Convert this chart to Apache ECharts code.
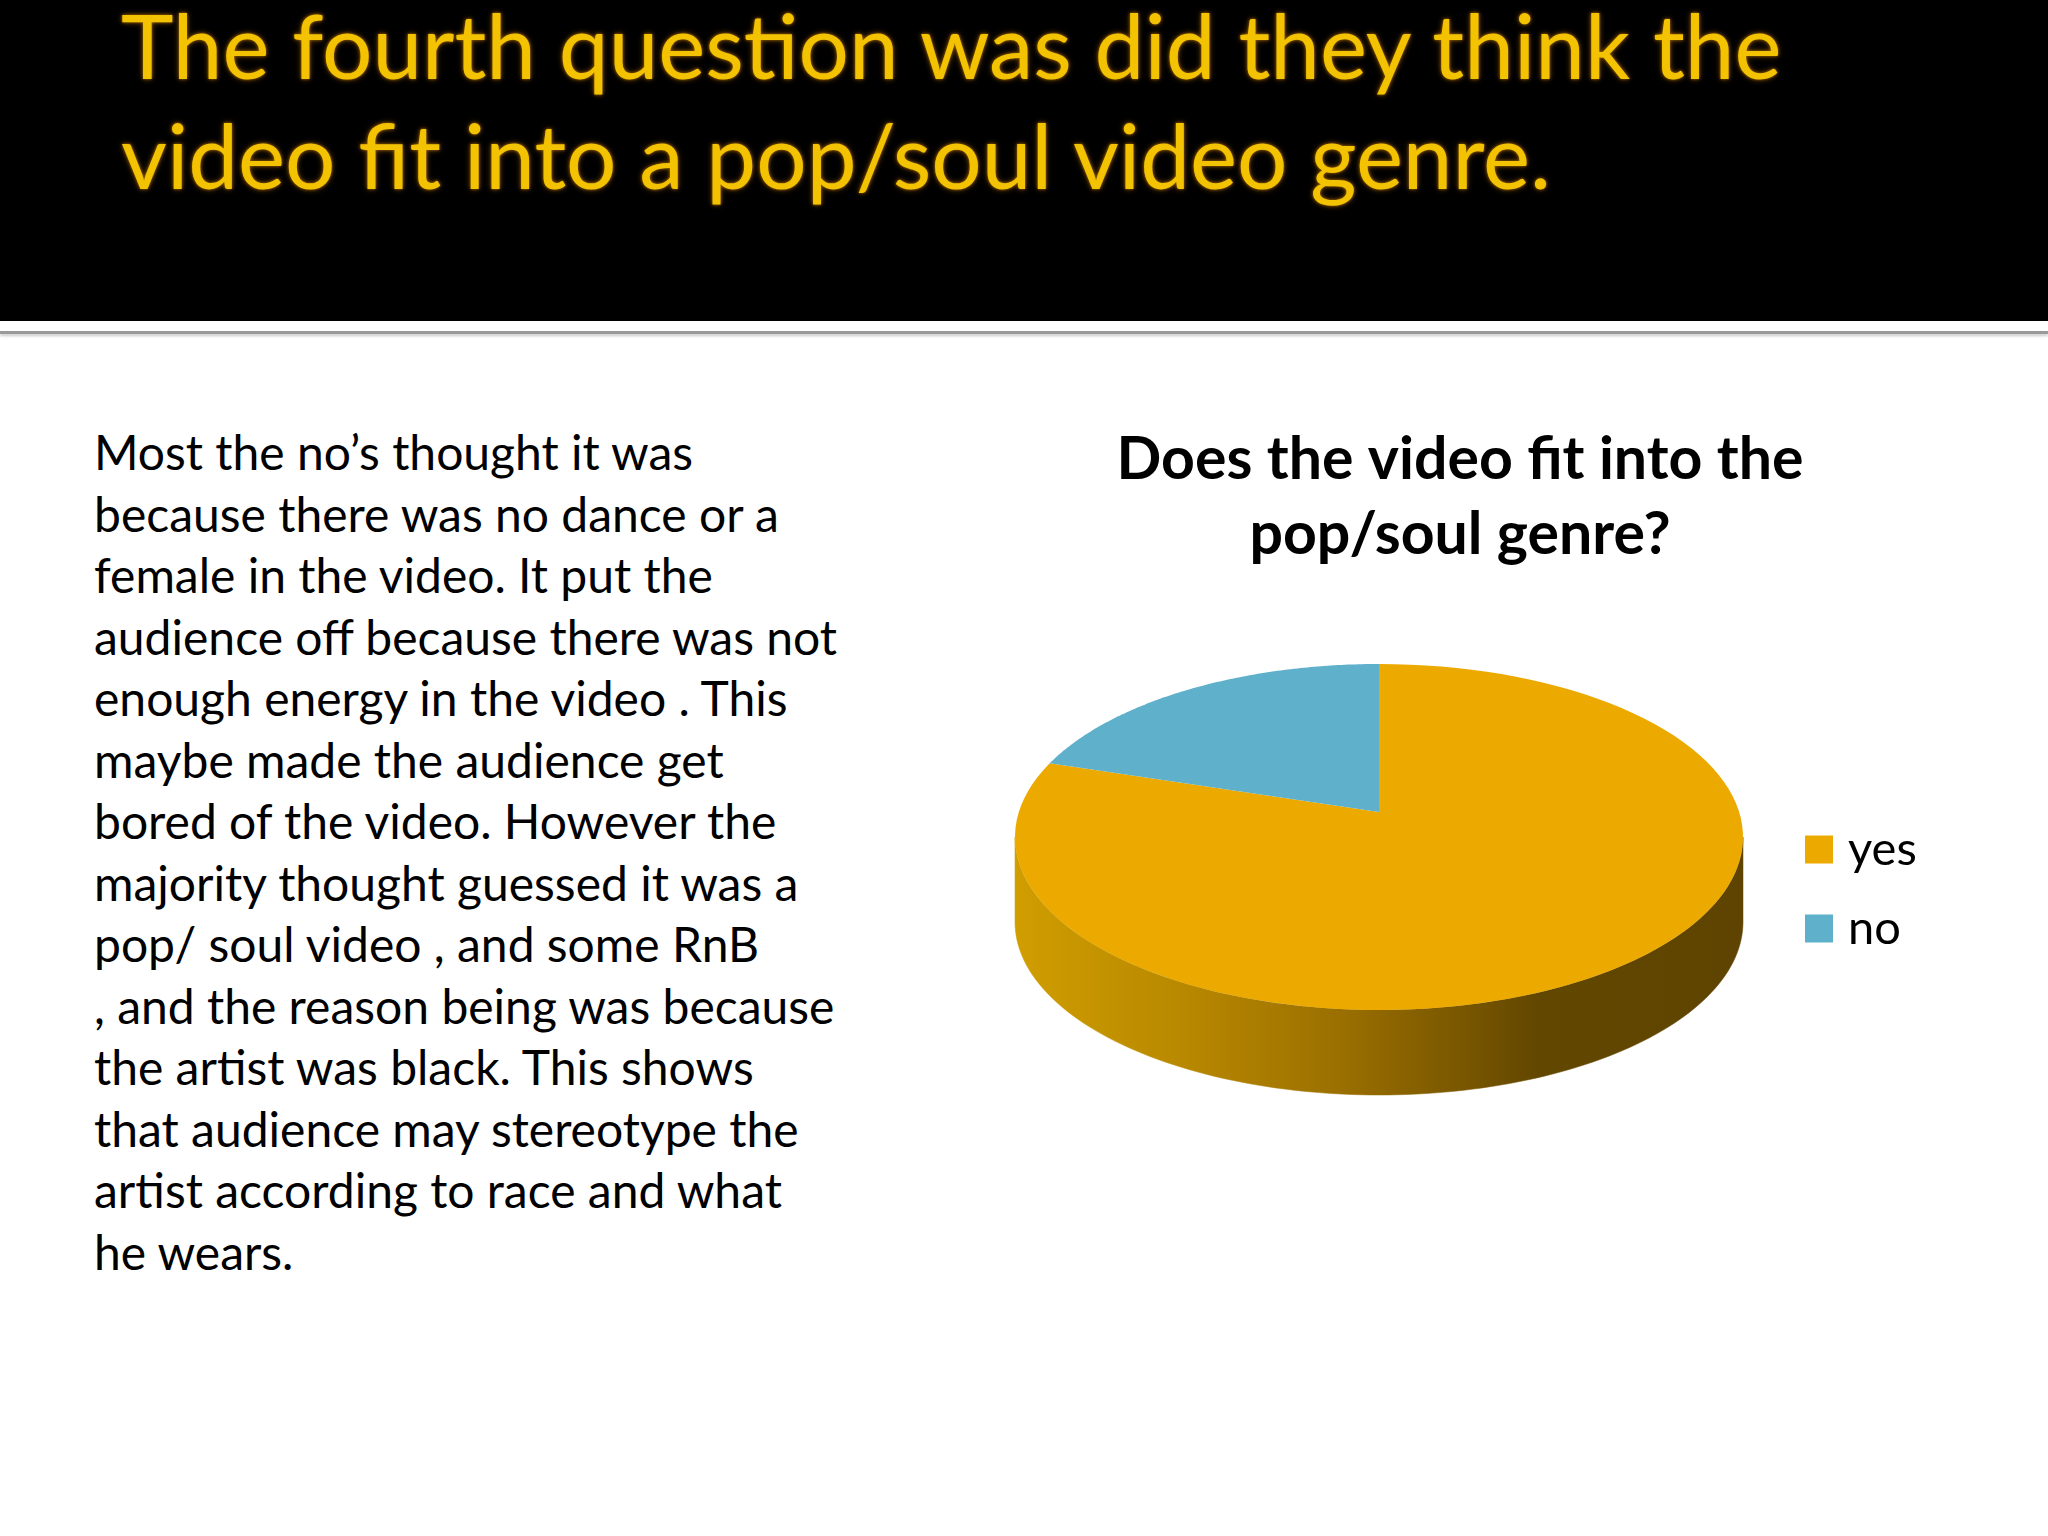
<!doctype html>
<html>
<head>
<meta charset="UTF-8">
<title>pop/soul genre</title>
<script src="https://cdn.jsdelivr.net/npm/echarts@6/dist/echarts.min.js"></script>
<style>
	html, body {
		margin: 0;
		padding: 0;
		background: #ffffff;
	}
	.slide {
		position: relative;
		width: 2048px;
		height: 1536px;
		overflow: hidden;
		background: #ffffff;
	}
	.band {
		position: absolute;
		left: 0;
		top: 0;
		width: 2048px;
		height: 321px;
		background: #000000;
	}
	.rule {
		position: absolute;
		left: 0;
		top: 331px;
		width: 2048px;
		height: 3px;
		background: #9a9a9a;
		box-shadow: 0 2px 3px rgba(0, 0, 0, 0.22);
	}
	.heading {
		position: absolute;
		left: 121px;
		top: -10px;
		font-family: Lato, "Open Sans", sans-serif;
		font-size: 89px;
		line-height: 110px;
		color: #f3c200;
		text-shadow: 0 0 3px #a56a00, 0 0 6px rgba(150, 90, 0, 0.7);
		white-space: nowrap;
	}
	.body {
		position: absolute;
		left: 94px;
		top: 421px;
		font-family: Lato, "Open Sans", sans-serif;
		font-size: 48px;
		line-height: 61.5px;
		color: #000000;
		white-space: nowrap;
	}
	#chart {
		position: absolute;
		left: 0;
		top: 0;
		width: 2048px;
		height: 1536px;
	}
</style>
</head>
<body>
<div class="slide">
	<div class="band"></div>
	<div class="rule"></div>
	<div class="heading">The fourth question was did they think the<br>video fit into a pop/soul video genre.</div>
	<div class="body">Most the no’s thought it was<br>because there was no dance or a<br>female in the video. It put the<br>audience off because there was not<br>enough energy in the video . This<br>maybe made the audience get<br>bored of the video. However the<br>majority thought guessed it was a<br>pop/ soul video , and some RnB<br>, and the reason being was because<br>the artist was black. This shows<br>that audience may stereotype the<br>artist according to race and what<br>he wears.</div>
	<div id="chart"></div>
</div>

<script type="text/javascript">
	// 数据
	var categories = ['yes', 'no'];
	var values = [82, 18];
	var sliceColors = ['#eca900', '#5fb0ca'];
	var chartTitle = 'Does the video fit into the\npop/soul genre?';

	// 饼图几何
	var cx = 1379;
	var cy = 837;
	var rx = 364;
	var ry = 173;
	var depth = 85;
	var apexLift = 25;

	var total = 0;
	for (var i = 0; i < values.length; i++) {
		total += values[i];
	}

	var sideFill = new echarts.graphic.LinearGradient(cx - rx, 0, cx + rx, 0, [
		{ offset: 0, color: '#d09e00' },
		{ offset: 0.25, color: '#b68600' },
		{ offset: 0.45, color: '#9a6f00' },
		{ offset: 0.62, color: '#785600' },
		{ offset: 0.72, color: '#624700' },
		{ offset: 1, color: '#5e4400' }
	], true);

	function rim(t, dy) {
		return [cx + rx * Math.sin(t), cy - ry * Math.cos(t) + dy];
	}

	function makeRender(idx) {
		return function(params, api) {
			var v = api.value(0);
			var before = 0;
			for (var j = 0; j < idx; j++) {
				before += values[j];
			}
			var a0 = before / total * Math.PI * 2;
			var a1 = (before + v) / total * Math.PI * 2;
			var children = [];
			var steps = 120;
			var k, t;

			// 前侧面
			var w0 = Math.max(a0, Math.PI / 2);
			var w1 = Math.min(a1, Math.PI * 3 / 2);
			if (w1 > w0) {
				var wall = [];
				for (k = 0; k <= steps; k++) {
					t = w0 + (w1 - w0) * k / steps;
					wall.push(rim(t, 0));
				}
				for (k = steps; k >= 0; k--) {
					t = w0 + (w1 - w0) * k / steps;
					wall.push(rim(t, depth));
				}
				children.push({
					type: 'polygon',
					z2: 1,
					shape: { points: wall },
					style: { fill: sideFill, stroke: sideFill, lineWidth: 0.5 }
				});
			}

			// 顶面
			var topPts = [[cx, cy - apexLift]];
			for (k = 0; k <= steps; k++) {
				t = a0 + (a1 - a0) * k / steps;
				topPts.push(rim(t, 0));
			}
			children.push({
				type: 'polygon',
				z2: 2,
				shape: { points: topPts },
				style: { fill: api.visual('color') }
			});

			return { type: 'group', children: children };
		};
	}

	var series = [];
	for (var s = 0; s < categories.length; s++) {
		series.push({
			name: categories[s],
			type: 'custom',
			coordinateSystem: 'none',
			renderItem: makeRender(s),
			itemStyle: { color: sliceColors[s] },
			data: [[values[s]]]
		});
	}

	var option = {
		animation: false,
		title: {
			text: chartTitle,
			left: 1460,
			top: 422,
			padding: 0,
			textAlign: 'center',
			textStyle: {
				fontFamily: 'Lato',
				fontWeight: 'bold',
				fontSize: 59,
				lineHeight: 75,
				color: '#000000'
			}
		},
		legend: {
			data: categories,
			orient: 'vertical',
			left: 1805,
			top: 826,
			padding: 0,
			itemWidth: 28,
			itemHeight: 28,
			itemGap: 32,
			icon: 'rect',
			selectedMode: false,
			textStyle: {
				fontFamily: 'Lato',
				fontSize: 47,
				color: '#000000',
				padding: [0, 0, 0, 10]
			}
		},
		series: series
	};

	var chart = echarts.init(document.getElementById('chart'));
	chart.setOption(option);
</script>
</body>
</html>
